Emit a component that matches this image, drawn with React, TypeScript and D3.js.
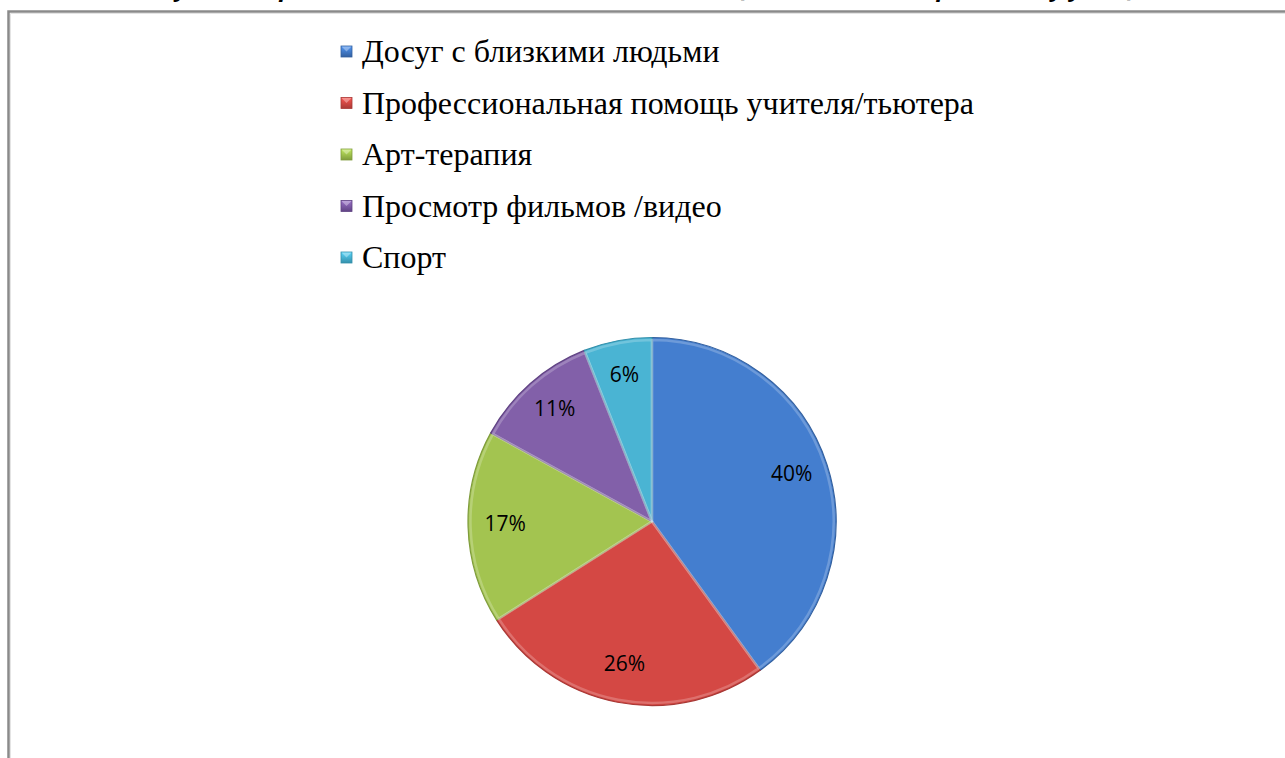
import * as d3 from 'd3';

const CATEGORIES = [
  'Досуг с близкими людьми',
  'Профессиональная помощь учителя/тьютера',
  'Арт-терапия',
  'Просмотр фильмов /видео',
  'Спорт',
];
const VALUES = [40, 26, 17, 11, 6];
const COLORS = ['#4179c6', '#cb4541', '#9cbc4d', '#7d5ca2', '#47acca'];
const COLORS_DARK = ['#33609f', '#a83936', '#7f9c3c', '#604383', '#3490ab'];
const TITLE = 'Рисунок 3. Предпочитаемые способы снятия эмоционального напряжения у учащихся';

export default function App() {
  const W = 1285;
  const H = 758;
  const cx = 652;
  const cy = 521.5;
  const R = 184;

  const pie = d3.pie<number>().sort(null).value((d) => d);
  const arcs = pie(VALUES);
  const arc = d3.arc<d3.PieArcDatum<number>>().innerRadius(0).outerRadius(R);
  const rim = d3.arc<d3.PieArcDatum<number>>().innerRadius(0).outerRadius(R - 2.5);
  const labelArc = d3.arc<d3.PieArcDatum<number>>().innerRadius(147).outerRadius(147);

  const legendY = d3.scalePoint<string>().domain(CATEGORIES).range([62, 268]);

  return (
    <svg width={W} height={H} style={{ position: 'absolute', left: 0, top: 0, background: '#fff' }}>
      <defs>
        {COLORS.map((c, i) => (
          <linearGradient key={i} id={`g${i}`} gradientUnits="userSpaceOnUse" x1={cx - R * 0.6} y1={cy - R} x2={cx + R * 0.4} y2={cy + R}>
            <stop offset="0%" stopColor={d3.color(c)!.brighter(0.12).toString()} />
            <stop offset="60%" stopColor={c} />
            <stop offset="100%" stopColor={COLORS_DARK[i]} />
          </linearGradient>
        ))}
        {COLORS.map((c, i) => (
          <linearGradient key={'m' + i} id={`m${i}`} x1="0" y1="0" x2="0" y2="1">
            <stop offset="0%" stopColor={d3.color(c)!.brighter(0.6).toString()} />
            <stop offset="100%" stopColor={COLORS_DARK[i]} />
          </linearGradient>
        ))}
      </defs>

      {/* title, cut off at the top edge */}
      <text x={660} y={-4} textAnchor="middle" fontFamily="'Open Sans'" fontWeight={700} fontStyle="italic" fontSize={24} fill="#000">
        {TITLE}
      </text>

      {/* frame */}
      <path d={`M8.5,${H} V11.5 H${W}`} fill="none" stroke="#8a8a8a" strokeWidth={2.5} />
      <path d={`M10.5,${H} V13.5 H${W}`} fill="none" stroke="#e4e4e4" strokeWidth={1} />

      {/* legend: text inherits the page's default serif face */}
      {CATEGORIES.map((c, i) => (
        <rect key={'k' + c} x={341} y={legendY(c)! - 16} width={11} height={11} fill={`url(#m${i})`} stroke={COLORS_DARK[i]} strokeWidth={0.8} />
      ))}
      {CATEGORIES.map((c) => (
        <polygon key={'p' + c} points={`${341.5},${legendY(c)! - 15.5} ${351.5},${legendY(c)! - 15.5} ${346.5},${legendY(c)! - 10.5}`} fill="#fff" opacity={0.35} />
      ))}
      <g style={{ fontFamily: 'serif' }}>
        {CATEGORIES.map((c) => (
          <text key={c} x={362} y={legendY(c)!} fontSize={32}>
            {c}
          </text>
        ))}
      </g>

      {/* pie */}
      <g transform={`translate(${cx},${cy})`}>
        {arcs.map((a, i) => (
          <path key={i} d={arc(a)!} fill={`url(#g${i})`} stroke={COLORS_DARK[i]} strokeWidth={1.2} strokeLinejoin="round" />
        ))}
        {arcs.map((a, i) => (
          <path key={'r' + i} d={rim(a)!} fill="none" stroke="#ffffff" strokeOpacity={0.22} strokeWidth={2.5} strokeLinejoin="round" />
        ))}
        {arcs.map((a, i) => {
          const [lx, ly] = labelArc.centroid(a);
          return (
            <text key={'l' + i} x={lx} y={ly - 3} textAnchor="middle" dominantBaseline="central" fontFamily="'Open Sans'" fontSize={21} fill="#000">
              {`${VALUES[i]}%`}
            </text>
          );
        })}
      </g>
    </svg>
  );
}
